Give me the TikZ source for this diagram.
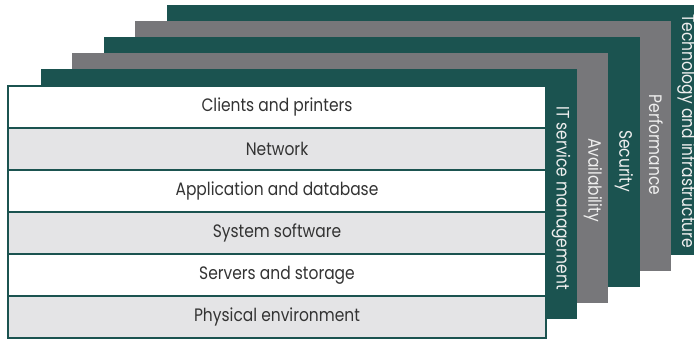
\documentclass[tikz,border=0pt]{standalone}
\usepackage{fontspec}
\setmainfont{Poppins}[FakeStretch=0.86]
\definecolor{dkgreen}{HTML}{1B5350}
\definecolor{midgray}{HTML}{77777A}
\definecolor{rowgray}{HTML}{E4E4E6}
\definecolor{txtgray}{HTML}{333333}
\definecolor{lbltxt}{HTML}{EEEEEE}
\begin{document}
\begin{tikzpicture}[x=1pt,y=-1pt,
  panel/.style={draw=none, inner sep=0pt, outer sep=0pt, anchor=north west,
    minimum width=536pt, minimum height=250pt},
  greenpanel/.style={panel, fill=dkgreen},
  graypanel/.style={panel, fill=midgray},
  sidelabel/.style={rotate=-90, text=lbltxt, inner sep=0pt, font=\fontsize{18}{21}\selectfont},
  rowbox/.style={draw=dkgreen, line width=2.4pt, inner sep=0pt, outer sep=0pt,
    minimum width=538pt, minimum height=42pt, text=txtgray,
    font=\fontsize{18}{21}\selectfont},
  whiterow/.style={rowbox, fill=white},
  grayrow/.style={rowbox, fill=rowgray}]
\useasboundingbox (0,0) rectangle (694,339);
\clip (0,0) rectangle (694,339);
% stacked panels, back to front
\node[greenpanel] (p5) at (167,5) {};
\node[graypanel]  (p4) at (135,21) {};
\node[greenpanel] (p3) at (104,37) {};
\node[graypanel]  (p2) at (72,53) {};
\node[greenpanel] (p1) at (41,69) {};
% side labels
\node[sidelabel] (l5) at (686.5,131) {Technology and infrastructure};
\node[sidelabel] (l4) at (656,145) {Performance};
\node[sidelabel] (l3) at (624,161) {Security};
\node[sidelabel] (l2) at (593,180) {Availability};
\node[sidelabel] (l1) at (561,198) {IT service management};
% front rows
\node[whiterow] (r1) at (277,107) {Clients and printers};
\node[grayrow]  (r2) at (277,149) {Network};
\node[whiterow] (r3) at (277,191) {Application and database};
\node[grayrow]  (r4) at (277,233) {System software};
\node[whiterow] (r5) at (277,275) {Servers and storage};
\node[grayrow]  (r6) at (277,317) {Physical environment};
\end{tikzpicture}
\end{document}
